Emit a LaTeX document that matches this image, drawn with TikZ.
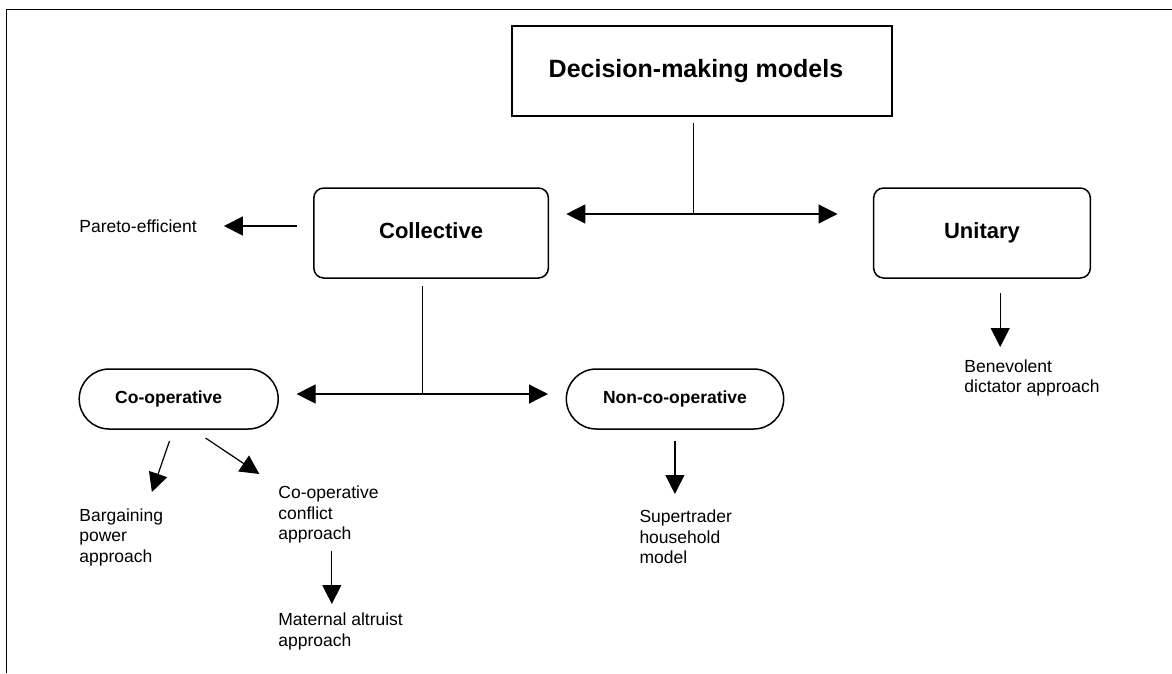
\documentclass[tikz,border=0pt]{standalone}
\usepackage{fontspec}
\setmainfont{Liberation Sans}
\usetikzlibrary{arrows.meta}
\tikzset{
  box/.style={draw, line width=1.5pt, inner sep=0pt, outer sep=0pt},
  sqbox/.style={box, font=\fontsize{25}{30}\selectfont\bfseries},
  rbox/.style={box, rounded corners=10pt, font=\fontsize{22}{26}\selectfont\bfseries},
  pill/.style={box, rounded corners=30pt, font=\fontsize{17.5}{20.5}\selectfont\bfseries},
  txt/.style={anchor=west, inner sep=0pt, align=left, font=\fontsize{17.5}{20.5}\selectfont},
  conn/.style={line width=1.2pt},
  arr/.style={conn, -{Triangle[length=19pt,width=19pt]}},
}
\begin{document}
\begin{tikzpicture}[x=1pt,y=-1pt]
\useasboundingbox (0,0) rectangle (1172,673);
% frame
\draw[line width=1.2pt] (6.5,673) -- (6.5,9.3) -- (1172,9.3);

% boxes
\node[sqbox, minimum width=380pt, minimum height=90pt] (dec) at (702,71) {\hspace*{-12pt}\raisebox{2pt}{Decision-making models}};
\node[rbox, minimum width=234.6pt, minimum height=90pt] (col) at (431.1,233) {\raisebox{4pt}{Collective}};
\node[rbox, minimum width=216.7pt, minimum height=90pt] (uni) at (982,233) {\raisebox{4pt}{Unitary}};
\node[pill, minimum width=199pt, minimum height=60pt] (coop) at (178.7,399) {\hspace*{-20pt}\raisebox{-7pt}{Co-operative}};
\node[pill, minimum width=217.3pt, minimum height=60pt] (ncoop) at (675,399) {\raisebox{-7pt}{Non-co-operative}};

% texts
\node[txt] (pareto) at (79.2,226) {Pareto-efficient};
\node[txt] (bene) at (964.2,378) {Benevolent\\dictator approach};
\node[txt] (super) at (639.3,537) {Supertrader\\household\\model};
\node[txt] (barg) at (79.2,537) {Bargaining\\power\\approach};
\node[txt] (conf) at (278.2,514.5) {Co-operative\\conflict\\approach};
\node[txt] (mat) at (278.2,631.5) {Maternal altruist\\approach};

% connector points
\coordinate (d1) at (693.3,123);
\coordinate (j1) at (693.3,214);
\coordinate (l1) at (566.3,214);
\coordinate (r1) at (837.5,214);
\coordinate (p1) at (296.6,226);
\coordinate (p2) at (223.9,226);
\coordinate (c1) at (422.1,286);
\coordinate (j2) at (422.1,394);
\coordinate (l2) at (296.6,394);
\coordinate (r2) at (548,394);
\coordinate (u1) at (1000.2,293);
\coordinate (u2) at (1000.2,347);
\coordinate (n1) at (674.9,441);
\coordinate (n2) at (674.9,494);
\coordinate (a1) at (169.5,441);
\coordinate (a2) at (151.9,492);
\coordinate (b1) at (205.5,438);
\coordinate (b2) at (259.4,474);
\coordinate (m1) at (331.8,551);
\coordinate (m2) at (331.8,604);

% connectors
\draw[conn] (d1) -- (j1);
\draw[arr] (j1) -- (l1);
\draw[arr] (j1) -- (r1);
\draw[arr] (p1) -- (p2);
\draw[conn] (c1) -- (j2);
\draw[arr] (j2) -- (l2);
\draw[arr] (j2) -- (r2);
\draw[arr] (u1) -- (u2);
\draw[arr] (n1) -- (n2);
\draw[arr] (a1) -- (a2);
\draw[arr] (b1) -- (b2);
\draw[arr] (m1) -- (m2);
\end{tikzpicture}
\end{document}
